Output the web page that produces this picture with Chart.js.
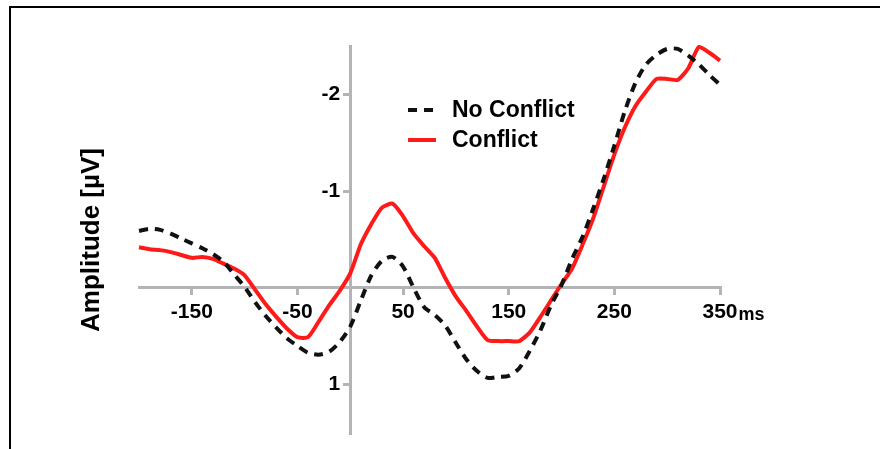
<!DOCTYPE html>
<html>
<head>
<meta charset="utf-8">
<script src="https://cdn.jsdelivr.net/npm/chart.js@4.4.0/dist/chart.umd.min.js"></script>
<style>
	body { margin: 0; background: #fff; }
	#wrap { position: relative; width: 880px; height: 449px; }
	#frame { position: absolute; left: 9px; top: 6px; right: 0; bottom: 0; border-top: 2px solid #000; border-left: 2px solid #000; pointer-events: none; }
</style>
</head>
<body>
<div id="wrap">
	<canvas id="erpChart" width="880" height="449"></canvas>
	<div id="frame"></div>
</div>
<script>
// time points (ms)
const times = [
	-200, -190, -180, -170, -160, -150, -140, -130, -120, -110,
	-100, -90, -80, -70, -60, -50, -40, -30, -20, -10,
	0, 10, 20, 30, 40, 50, 60, 70, 80, 90,
	100, 110, 120, 130, 140, 150, 160, 170, 180, 190,
	200, 210, 220, 230, 240, 250, 260, 270, 280, 290,
	300, 310, 320, 330, 340, 350
]

// amplitude (µV), No Conflict
const noConflict = [
	-0.59, -0.61, -0.60, -0.56, -0.51, -0.46, -0.41, -0.35, -0.27, -0.14,
	-0.01, 0.15, 0.29, 0.41, 0.52, 0.60, 0.67, 0.69, 0.66, 0.56,
	0.40, 0.13, -0.13, -0.28, -0.32, -0.22, 0.00, 0.20, 0.28, 0.39,
	0.57, 0.74, 0.86, 0.93, 0.92, 0.91, 0.83, 0.65, 0.44, 0.18,
	-0.03, -0.30, -0.53, -0.82, -1.13, -1.47, -1.83, -2.12, -2.31, -2.41,
	-2.47, -2.47, -2.40, -2.31, -2.20, -2.10
]

// amplitude (µV), Conflict
const conflict = [
	-0.42, -0.40, -0.39, -0.37, -0.34, -0.31, -0.32, -0.30, -0.25, -0.20,
	-0.13, 0.02, 0.17, 0.30, 0.42, 0.51, 0.51, 0.35, 0.18, 0.03,
	-0.15, -0.45, -0.66, -0.83, -0.87, -0.74, -0.56, -0.43, -0.31, -0.10,
	0.09, 0.24, 0.40, 0.54, 0.55, 0.55, 0.55, 0.46, 0.30, 0.13,
	-0.04, -0.20, -0.45, -0.72, -1.05, -1.38, -1.66, -1.88, -2.03, -2.16,
	-2.16, -2.15, -2.27, -2.49, -2.43, -2.35
]

const xTicks = [-150, -50, 50, 150, 250, 350]
const yTicks = [-2, -1, 1]

const axisGray = '#b3b3b8'
const font = 'Liberation Sans, Arial, sans-serif'

const toPoints = vals => vals.map((v, i) => ({ x: times[i], y: v }))

// y labels of an axis placed at x=0 sit on the axis line, push them left of the tick marks
const shiftYLabels = {
	id: 'shiftYLabels',
	beforeDraw(chart) {
		const ys = chart.scales.y
		ys.getLabelItems().forEach(item => {
			if (!item._shifted) {
				item.options.translation[0] -= 10
				item._shifted = true
			}
		})
	}
}

// legend, axis title and "ms" unit drawn on top
const extras = {
	id: 'extras',
	afterDraw(chart) {
		const ctx = chart.ctx
		const xs = chart.scales.x
		ctx.save()
		// y axis title
		ctx.fillStyle = '#000'
		ctx.font = 'bold 26px ' + font
		ctx.textAlign = 'center'
		ctx.textBaseline = 'middle'
		ctx.translate(92, 240)
		ctx.rotate(-Math.PI / 2)
		ctx.fillText('Amplitude [µV]', 0, 0)
		ctx.restore()

		// unit after last x label
		ctx.save()
		ctx.font = 'bold 21px ' + font
		const w = ctx.measureText('350').width
		ctx.font = 'bold 18px ' + font
		ctx.fillStyle = '#000'
		ctx.textAlign = 'left'
		ctx.textBaseline = 'middle'
		ctx.fillText('ms', xs.getPixelForValue(350) + w / 2 + 1, 315)
		ctx.restore()

		// legend
		const rows = [110, 140]
		chart.data.datasets.forEach((ds, i) => {
			ctx.save()
			ctx.strokeStyle = ds.borderColor
			ctx.lineWidth = ds.borderWidth
			ctx.setLineDash(ds.borderDash || [])
			ctx.beginPath()
			ctx.moveTo(408, rows[i])
			ctx.lineTo(436, rows[i])
			ctx.stroke()
			ctx.fillStyle = '#000'
			ctx.font = 'bold 23px ' + font
			ctx.textAlign = 'left'
			ctx.textBaseline = 'middle'
			ctx.fillText(ds.label, 452, rows[i] + 1)
			ctx.restore()
		})
	}
}

new Chart(document.getElementById('erpChart'), {
	type: 'line',
	data: {
		datasets: [
			{
				label: 'No Conflict',
				data: toPoints(noConflict),
				borderColor: '#111111',
				borderWidth: 4,
				borderDash: [9, 7],
				pointRadius: 0,
				tension: 0.25,
				clip: 8
			},
			{
				label: 'Conflict',
				data: toPoints(conflict),
				borderColor: '#ff1a1a',
				borderWidth: 4,
				pointRadius: 0,
				tension: 0.2,
				clip: 8
			}
		]
	},
	options: {
		responsive: false,
		animation: false,
		layout: {
			padding: { left: 139, right: 160, top: 46, bottom: 16 }
		},
		plugins: {
			legend: { display: false },
			tooltip: { enabled: false }
		},
		scales: {
			x: {
				type: 'linear',
				min: -200,
				max: 350,
				position: { y: 0 },
				afterBuildTicks: axis => { axis.ticks = xTicks.map(v => ({ value: v })) },
				border: { display: true, color: axisGray, width: 3 },
				grid: { drawOnChartArea: false, drawTicks: true, tickLength: 6, color: axisGray, lineWidth: 3 },
				ticks: {
					color: '#000',
					font: { family: font, size: 21, weight: 'bold' },
					padding: 6,
					maxRotation: 0,
					autoSkip: false
				}
			},
			y: {
				type: 'linear',
				min: -2.5,
				max: 1.5,
				reverse: true,
				position: { x: 0 },
				afterBuildTicks: axis => { axis.ticks = yTicks.map(v => ({ value: v })) },
				border: { display: true, color: axisGray, width: 3 },
				grid: { drawOnChartArea: false, drawTicks: true, tickLength: 6, color: axisGray, lineWidth: 3 },
				ticks: {
					color: '#000',
					font: { family: font, size: 21, weight: 'bold' },
					padding: 3
				}
			}
		}
	},
	plugins: [shiftYLabels, extras]
})
</script>
</body>
</html>
